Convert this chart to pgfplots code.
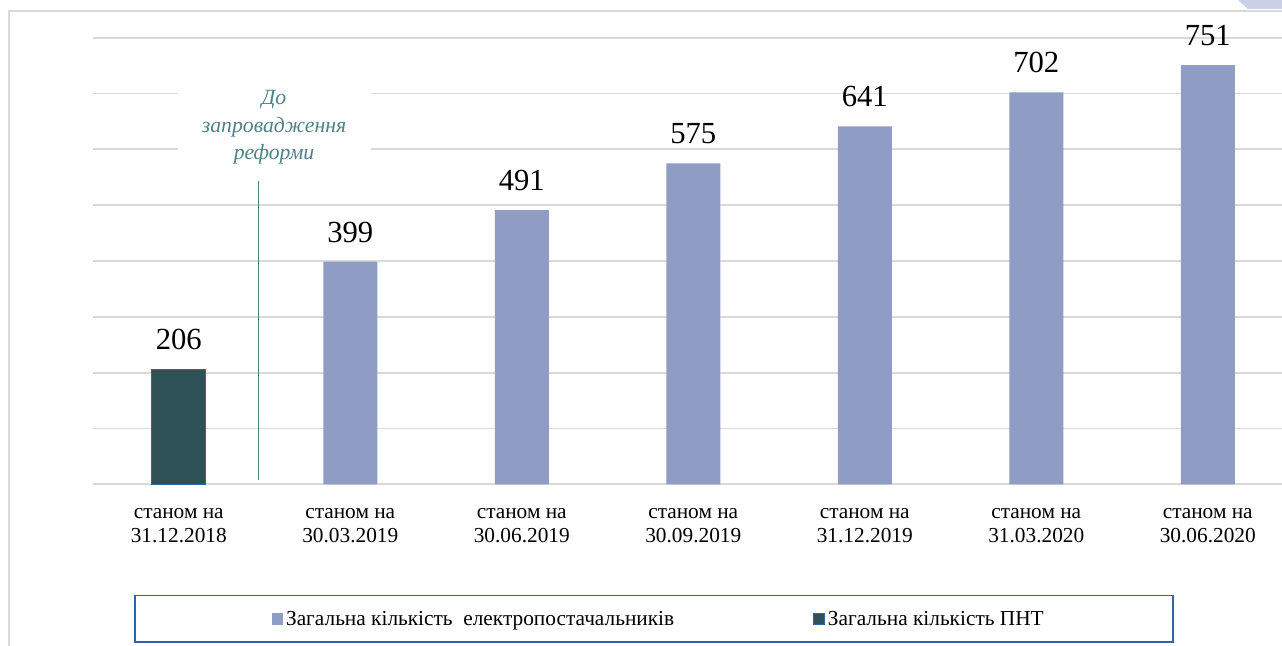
\documentclass[border=0pt]{standalone}
\usepackage{pgfplots}
\pgfplotsset{compat=1.18}
\usepackage{fontspec}
\setmainfont{Liberation Serif}
\definecolor{barlight}{HTML}{8F9CC3}
\definecolor{bardark}{HTML}{2D5157}
\definecolor{bluebord}{HTML}{3064A8}
\definecolor{gridgray}{HTML}{D9D9D9}
\definecolor{cornerblue}{HTML}{C9D0E8}
\definecolor{tealtext}{HTML}{4F8289}
\begin{document}
\begin{tikzpicture}
\path[use as bounding box] (0,0) rectangle (961.5pt,484.5pt);
% outer frame
\draw[gridgray, line width=1.2pt] ({9*0.75pt},0) -- ({9*0.75pt},{(646-11)*0.75pt}) -- (961.5pt,{(646-11)*0.75pt});
\fill[cornerblue] ({1238*0.75pt},484.5pt) -- (961.5pt,484.5pt) -- (961.5pt,{(646-9)*0.75pt}) -- ({1248*0.75pt},{(646-9)*0.75pt}) -- cycle;
\begin{axis}[
  scale only axis, width=900.375pt, height=334.9pt,
  at={(69.75pt,121.3pt)}, anchor=south west,
  xmin=-0.5, xmax=6.5, ymin=0, ymax=800,
  ytick={0,100,...,800}, yticklabels={},
  xtick={0,...,6},
  xticklabels={{станом на\\31.12.2018},{станом на\\30.03.2019},{станом на\\30.06.2019},{станом на\\30.09.2019},{станом на\\31.12.2019},{станом на\\31.03.2020},{станом на\\30.06.2020}},
  xticklabel style={align=center, font=\fontsize{16}{18.3}\selectfont, yshift=-14.5pt},
  ymajorgrids, grid style={color=gridgray, line width=1.4pt},
  axis line style={draw=none}, major tick length=0pt,
  clip=false,
  /pgf/number format/assume math mode=true,
  ybar, bar width=40.5pt,
  nodes near coords,
  every node near coord/.append style={font=\fontsize{23}{24}\selectfont, inner sep=0pt, yshift=14.2pt},
  legend columns=2,
  legend style={at={(0.03415,-0.2473)}, anchor=north west, draw=bluebord, line width=1.3pt,
    font=\fontsize{16}{18}\selectfont, inner xsep=95pt, inner ysep=9.5pt,
    /tikz/every even column/.append style={column sep=102pt}},
]
\addplot[fill=barlight, draw=none, bar shift=0pt,
  legend image code/.code={\path[draw=none, fill=none] (0pt,-1pt) rectangle (1pt,1pt); \fill[barlight, draw=none] (8pt,-4.2pt) rectangle (16.4pt,4.2pt);}]
  coordinates {(1,399) (2,491) (3,575) (4,641) (5,702) (6,751)};
\addlegendentry{Загальна кількість\ \ електропостачальників}
\addplot[fill=bardark, draw=bluebord, line width=0.9pt, bar shift=0pt,
  legend image code/.code={\draw[fill=bardark, draw=bluebord, line width=0.9pt] (0pt,-4.2pt) rectangle (8.4pt,4.2pt);}]
  coordinates {(0,206)};
\addlegendentry{Загальна кількість ПНТ}
\end{axis}
% annotation
\fill[white] ({178*0.75pt},{(646-80)*0.75pt}) rectangle ({371*0.75pt},{(646-166)*0.75pt});
\node[anchor=north, inner sep=0pt, align=center, text=tealtext, font=\fontsize{16.3}{20.8}\selectfont\itshape] at ({274*0.75pt},{(646-90)*0.75pt}) {До\\запровадження\\реформи};
\draw[tealtext, line width=0.9pt] ({258.5*0.75pt},{(646-181)*0.75pt}) -- ({258.5*0.75pt},{(646-480)*0.75pt});
\end{tikzpicture}
\end{document}
